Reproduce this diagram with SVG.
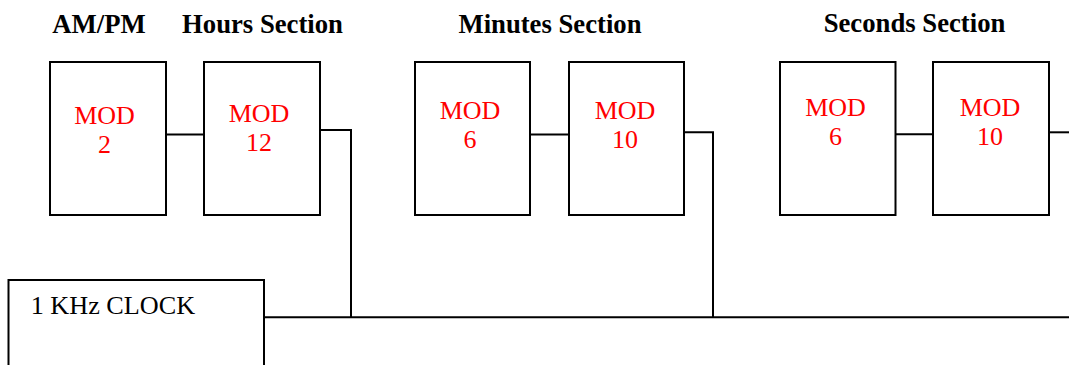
<svg xmlns="http://www.w3.org/2000/svg" width="1069" height="365" viewBox="0 0 1069 365">
<style>
.box{fill:#fff;stroke:#000;stroke-width:2}
.w{fill:none;stroke:#000;stroke-width:2}
.h{font-family:"Liberation Serif",serif;font-weight:bold;font-size:26.7px;fill:#000;text-anchor:middle}
.m{font-family:"Liberation Serif",serif;font-size:26px;fill:#ff0000;text-anchor:middle}
.c{font-family:"Liberation Serif",serif;font-size:26.2px;fill:#000}
</style>
<rect width="1069" height="365" fill="#fff"/>
<g id="titles">
<text class="h" x="99" y="33">AM/PM</text>
<text class="h" x="262.5" y="33">Hours Section</text>
<text class="h" x="550" y="33">Minutes Section</text>
<text class="h" x="914.5" y="31.5">Seconds Section</text>
</g>
<g id="connectors">
<line class="w" x1="166" y1="134.5" x2="204" y2="134.5"/>
<polyline class="w" points="320,130 351,130 351,317"/>
<line class="w" x1="530" y1="134.5" x2="569" y2="134.5"/>
<polyline class="w" points="682,132.3 713,132.3 713,317"/>
<line class="w" x1="895.5" y1="134.3" x2="933" y2="134.3"/>
<line class="w" x1="1047" y1="132.3" x2="1069" y2="132.3"/>
<line class="w" x1="264" y1="317.3" x2="1069" y2="317.3"/>
</g>
<g id="ampm-mod2">
<rect class="box" x="50" y="62" width="116" height="153"/>
<text class="m" x="104.5" y="124">MOD</text>
<text class="m" x="104.5" y="152.7">2</text>
</g>
<g id="hours-mod12">
<rect class="box" x="204" y="62" width="116" height="153"/>
<text class="m" x="259" y="121.7">MOD</text>
<text class="m" x="259" y="151">12</text>
</g>
<g id="min-mod6">
<rect class="box" x="415" y="62" width="115" height="153"/>
<text class="m" x="470" y="119">MOD</text>
<text class="m" x="470" y="147.7">6</text>
</g>
<g id="min-mod10">
<rect class="box" x="569" y="62" width="115" height="153"/>
<text class="m" x="625" y="119">MOD</text>
<text class="m" x="625" y="147.7">10</text>
</g>
<g id="sec-mod6">
<rect class="box" x="780" y="62" width="115.5" height="153"/>
<text class="m" x="835.5" y="116">MOD</text>
<text class="m" x="835.5" y="145">6</text>
</g>
<g id="sec-mod10">
<rect class="box" x="933" y="62" width="116" height="153"/>
<text class="m" x="990" y="116">MOD</text>
<text class="m" x="990" y="145">10</text>
</g>
<g id="clock">
<rect class="box" x="8.5" y="280" width="255.5" height="100"/>
<text class="c" x="30.7" y="314">1 KHz CLOCK</text>
</g>
</svg>
